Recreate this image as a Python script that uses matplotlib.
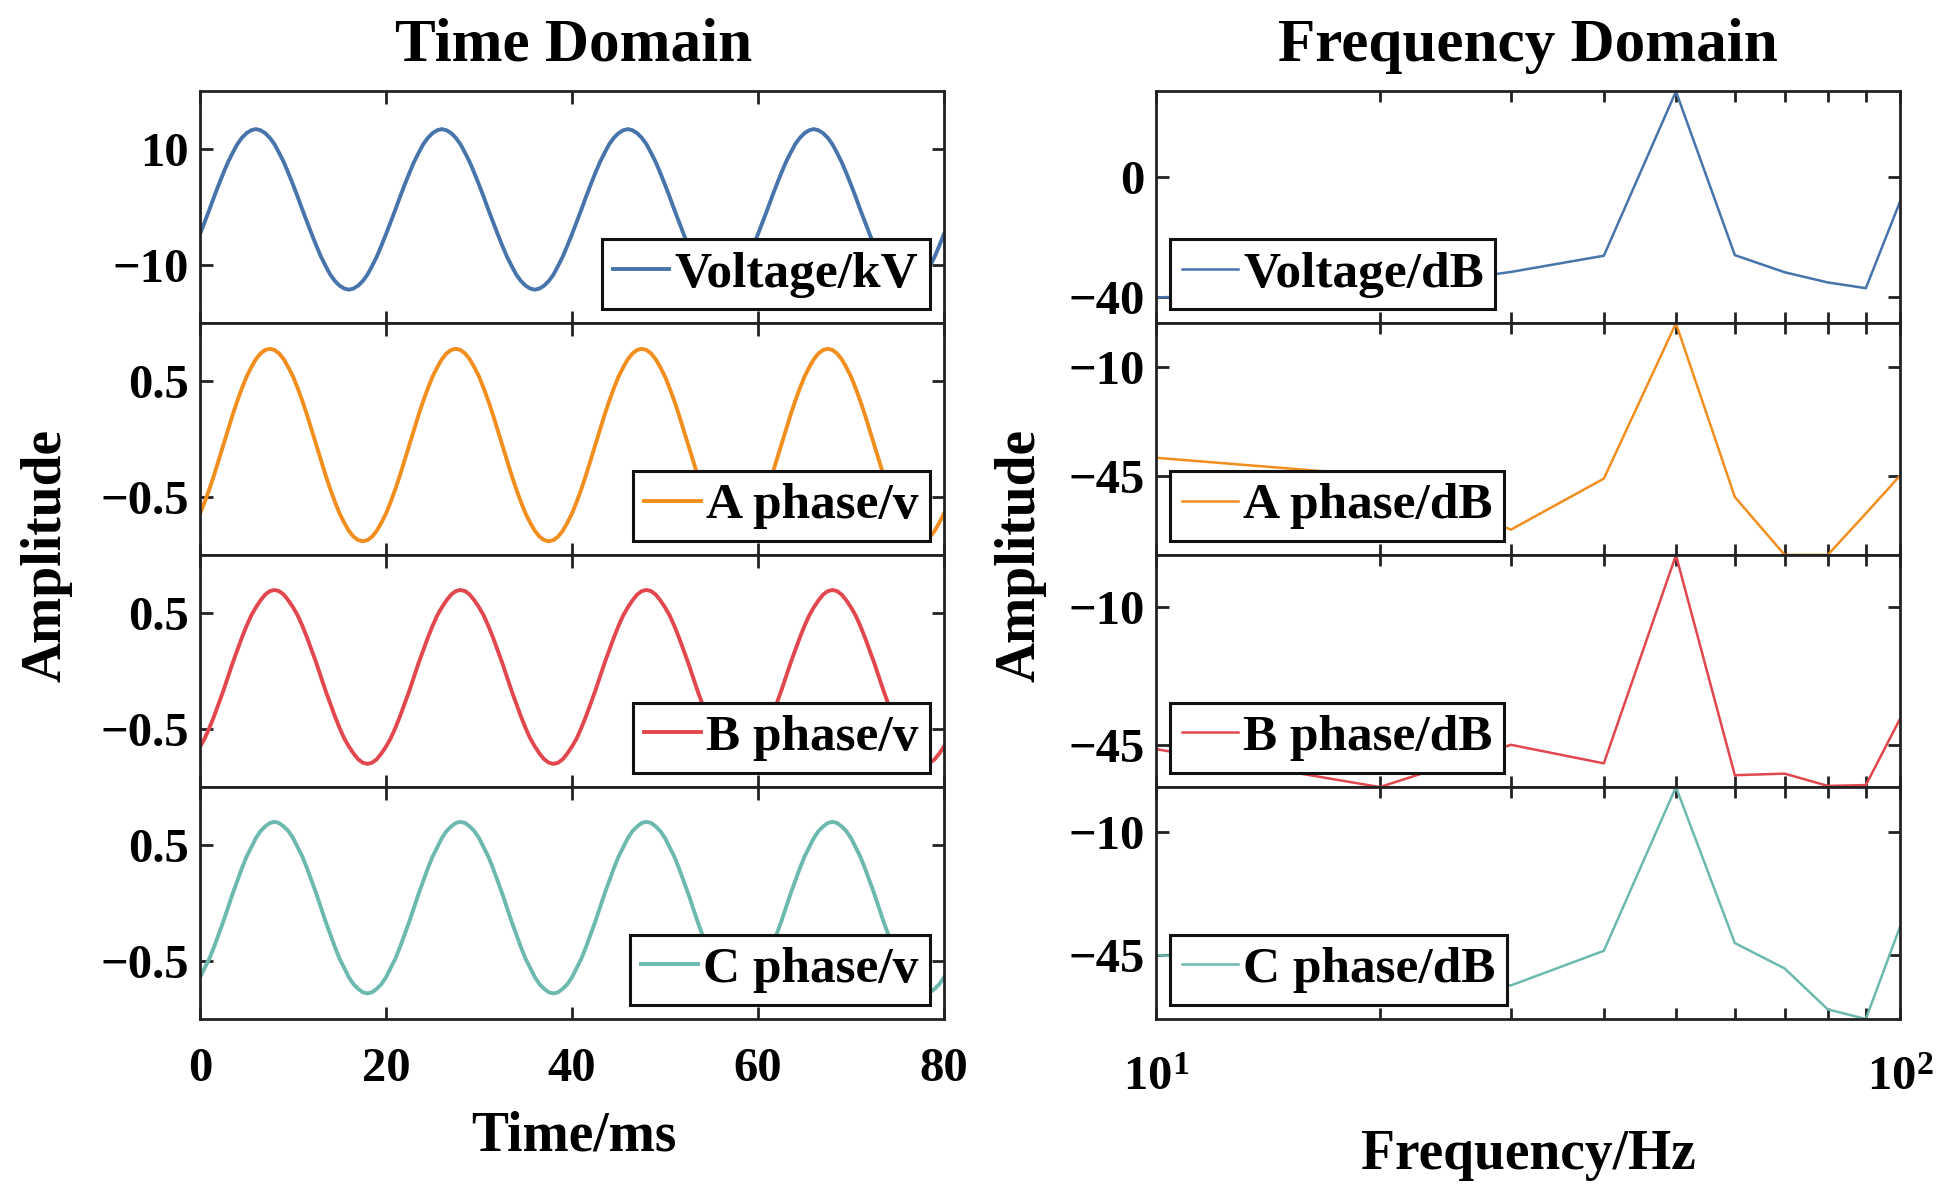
import matplotlib
matplotlib.use("Agg")
import matplotlib.pyplot as plt
from matplotlib.ticker import LogLocator, NullFormatter

plt.rcParams["font.family"] = "serif"
plt.rcParams["font.serif"] = ["Liberation Serif", "DejaVu Serif"]
plt.rcParams["font.weight"] = "bold"
plt.rcParams["mathtext.fontset"] = "custom"
plt.rcParams["mathtext.rm"] = "Liberation Serif"

time_ms = [i * 0.5 for i in range(161)]

voltage_kv = [
    -4.6, -2.5, -0.4, 1.8, 3.9, 5.9, 7.8, 9.4, 10.9, 12.0, 12.8, 13.3, 13.5, 13.3, 12.8, 12.0, 10.9, 9.4, 7.8, 5.9, 3.9, 1.8, -0.4, -2.5, -4.6, -6.6, -8.5, -10.1, -11.6, -12.7, -13.5, -14.0, -14.2, -14.0, -13.5, -12.7, -11.6, -10.1, -8.5, -6.6,
    -4.6, -2.5, -0.4, 1.8, 3.9, 5.9, 7.8, 9.4, 10.9, 12.0, 12.8, 13.3, 13.5, 13.3, 12.8, 12.0, 10.9, 9.4, 7.8, 5.9, 3.9, 1.8, -0.4, -2.5, -4.6, -6.6, -8.5, -10.1, -11.6, -12.7, -13.5, -14.0, -14.2, -14.0, -13.5, -12.7, -11.6, -10.1, -8.5, -6.6,
    -4.6, -2.5, -0.4, 1.8, 3.9, 5.9, 7.8, 9.4, 10.9, 12.0, 12.8, 13.3, 13.5, 13.3, 12.8, 12.0, 10.9, 9.4, 7.8, 5.9, 3.9, 1.8, -0.4, -2.5, -4.6, -6.6, -8.5, -10.1, -11.6, -12.7, -13.5, -14.0, -14.2, -14.0, -13.5, -12.7, -11.6, -10.1, -8.5, -6.6,
    -4.6, -2.5, -0.4, 1.8, 3.9, 5.9, 7.8, 9.4, 10.9, 12.0, 12.8, 13.3, 13.5, 13.3, 12.8, 12.0, 10.9, 9.4, 7.8, 5.9, 3.9, 1.8, -0.4, -2.5, -4.6, -6.6, -8.5, -10.1, -11.6, -12.7, -13.5, -14.0, -14.2, -14.0, -13.5, -12.7, -11.6, -10.1, -8.5, -6.6,
    -4.6,
]
phase_a = [
    -0.64, -0.54, -0.43, -0.31, -0.18, -0.05, 0.08, 0.21, 0.33, 0.44, 0.54, 0.62, 0.69, 0.74, 0.77, 0.78, 0.77, 0.74, 0.69, 0.62, 0.54, 0.44, 0.33, 0.21, 0.08, -0.05, -0.18, -0.31, -0.43, -0.54, -0.64, -0.72, -0.79, -0.84, -0.87, -0.88, -0.87, -0.84, -0.79, -0.72,
    -0.64, -0.54, -0.43, -0.31, -0.18, -0.05, 0.08, 0.21, 0.33, 0.44, 0.54, 0.62, 0.69, 0.74, 0.77, 0.78, 0.77, 0.74, 0.69, 0.62, 0.54, 0.44, 0.33, 0.21, 0.08, -0.05, -0.18, -0.31, -0.43, -0.54, -0.64, -0.72, -0.79, -0.84, -0.87, -0.88, -0.87, -0.84, -0.79, -0.72,
    -0.64, -0.54, -0.43, -0.31, -0.18, -0.05, 0.08, 0.21, 0.33, 0.44, 0.54, 0.62, 0.69, 0.74, 0.77, 0.78, 0.77, 0.74, 0.69, 0.62, 0.54, 0.44, 0.33, 0.21, 0.08, -0.05, -0.18, -0.31, -0.43, -0.54, -0.64, -0.72, -0.79, -0.84, -0.87, -0.88, -0.87, -0.84, -0.79, -0.72,
    -0.64, -0.54, -0.43, -0.31, -0.18, -0.05, 0.08, 0.21, 0.33, 0.44, 0.54, 0.62, 0.69, 0.74, 0.77, 0.78, 0.77, 0.74, 0.69, 0.62, 0.54, 0.44, 0.33, 0.21, 0.08, -0.05, -0.18, -0.31, -0.43, -0.54, -0.64, -0.72, -0.79, -0.84, -0.87, -0.88, -0.87, -0.84, -0.79, -0.72,
    -0.64,
]
phase_b = [
    -0.65, -0.58, -0.49, -0.39, -0.28, -0.17, -0.05, 0.07, 0.18, 0.29, 0.39, 0.48, 0.55, 0.61, 0.66, 0.69, 0.70, 0.69, 0.66, 0.61, 0.55, 0.48, 0.39, 0.29, 0.18, 0.07, -0.05, -0.17, -0.28, -0.39, -0.49, -0.58, -0.65, -0.71, -0.76, -0.79, -0.80, -0.79, -0.76, -0.71,
    -0.65, -0.58, -0.49, -0.39, -0.28, -0.17, -0.05, 0.07, 0.18, 0.29, 0.39, 0.48, 0.55, 0.61, 0.66, 0.69, 0.70, 0.69, 0.66, 0.61, 0.55, 0.48, 0.39, 0.29, 0.18, 0.07, -0.05, -0.17, -0.28, -0.39, -0.49, -0.58, -0.65, -0.71, -0.76, -0.79, -0.80, -0.79, -0.76, -0.71,
    -0.65, -0.58, -0.49, -0.39, -0.28, -0.17, -0.05, 0.07, 0.18, 0.29, 0.39, 0.48, 0.55, 0.61, 0.66, 0.69, 0.70, 0.69, 0.66, 0.61, 0.55, 0.48, 0.39, 0.29, 0.18, 0.07, -0.05, -0.17, -0.28, -0.39, -0.49, -0.58, -0.65, -0.71, -0.76, -0.79, -0.80, -0.79, -0.76, -0.71,
    -0.65, -0.58, -0.49, -0.39, -0.28, -0.17, -0.05, 0.07, 0.18, 0.29, 0.39, 0.48, 0.55, 0.61, 0.66, 0.69, 0.70, 0.69, 0.66, 0.61, 0.55, 0.48, 0.39, 0.29, 0.18, 0.07, -0.05, -0.17, -0.28, -0.39, -0.49, -0.58, -0.65, -0.71, -0.76, -0.79, -0.80, -0.79, -0.76, -0.71,
    -0.65,
]
phase_c = [
    -0.64, -0.56, -0.48, -0.38, -0.27, -0.16, -0.04, 0.08, 0.19, 0.30, 0.40, 0.48, 0.56, 0.62, 0.66, 0.69, 0.70, 0.69, 0.66, 0.62, 0.56, 0.48, 0.40, 0.30, 0.19, 0.08, -0.04, -0.16, -0.27, -0.38, -0.48, -0.56, -0.64, -0.70, -0.74, -0.77, -0.78, -0.77, -0.74, -0.70,
    -0.64, -0.56, -0.48, -0.38, -0.27, -0.16, -0.04, 0.08, 0.19, 0.30, 0.40, 0.48, 0.56, 0.62, 0.66, 0.69, 0.70, 0.69, 0.66, 0.62, 0.56, 0.48, 0.40, 0.30, 0.19, 0.08, -0.04, -0.16, -0.27, -0.38, -0.48, -0.56, -0.64, -0.70, -0.74, -0.77, -0.78, -0.77, -0.74, -0.70,
    -0.64, -0.56, -0.48, -0.38, -0.27, -0.16, -0.04, 0.08, 0.19, 0.30, 0.40, 0.48, 0.56, 0.62, 0.66, 0.69, 0.70, 0.69, 0.66, 0.62, 0.56, 0.48, 0.40, 0.30, 0.19, 0.08, -0.04, -0.16, -0.27, -0.38, -0.48, -0.56, -0.64, -0.70, -0.74, -0.77, -0.78, -0.77, -0.74, -0.70,
    -0.64, -0.56, -0.48, -0.38, -0.27, -0.16, -0.04, 0.08, 0.19, 0.30, 0.40, 0.48, 0.56, 0.62, 0.66, 0.69, 0.70, 0.69, 0.66, 0.62, 0.56, 0.48, 0.40, 0.30, 0.19, 0.08, -0.04, -0.16, -0.27, -0.38, -0.48, -0.56, -0.64, -0.70, -0.74, -0.77, -0.78, -0.77, -0.74, -0.70,
    -0.64,
]

# ---- frequency domain ----
freq_hz = [10, 20, 30, 40, 50, 60, 70, 80, 90, 100]
voltage_db = [-40.0, -37.5, -31.5, -26.1, 28.6, -25.9, -31.6, -35.0, -36.9, -8.2]
phase_a_db = [-39.2, -45.0, -62.3, -45.9, 4.0, -51.8, -70.4, -70.4, -57.1, -45.0]
phase_b_db = [-46.0, -55.6, -44.9, -49.6, 3.1, -52.6, -52.2, -55.3, -55.1, -38.4]
phase_c_db = [-45.0, -49.0, -53.6, -43.8, 2.6, -41.6, -48.8, -60.4, -63.1, -37.1]

time_labels = ["Voltage/kV", "A phase/v", "B phase/v", "C phase/v"]
freq_labels = ["Voltage/dB", "A phase/dB", "B phase/dB", "C phase/dB"]
time_yticks = [[-10, 10], [-0.5, 0.5], [-0.5, 0.5], [-0.5, 0.5]]
time_ylims = [(-20, 20), (-1, 1), (-1, 1), (-1, 1)]
freq_yticks = [[-40, 0], [-45, -10], [-45, -10], [-45, -10]]
freq_ylims = [(-48.6, 28.6), (-70.5, 4.0), (-55.6, 3.1), (-63.1, 2.6)]
colors = ["#4674AB", "#F28E1E", "#E2474D", "#6CB9B0"]

time_series = [voltage_kv, phase_a, phase_b, phase_c]
freq_series = [voltage_db, phase_a_db, phase_b_db, phase_c_db]


def style(ax, xpad):
    for sp in ax.spines.values():
        sp.set_linewidth(2.0)
        sp.set_color("#222222")
    ax.tick_params(which="both", direction="in", top=True, right=True,
                   width=2.0, labelsize=35, color="#222222")
    ax.tick_params(which="major", length=9)
    ax.tick_params(which="minor", length=8)
    ax.tick_params(axis="y", pad=8)
    ax.tick_params(axis="x", pad=xpad)


def add_legend(ax, loc):
    leg = ax.legend(loc=loc, fontsize=37, frameon=True, fancybox=False,
                    framealpha=1, edgecolor="#111111", handlelength=1.1,
                    handletextpad=0.1, borderpad=0.22, borderaxespad=0.28)
    leg.get_frame().set_linewidth(2.2)


fig = plt.figure(figsize=(19.52, 12.03), dpi=100)

left_x, right_x, width = 0.1025, 0.5922, 0.3811
bottom, height = 0.153, 0.19275

for i in range(4):
    y0 = bottom + (3 - i) * height

    # time domain
    ax = fig.add_axes([left_x, y0, width, height])
    ax.plot(time_ms, time_series[i], color=colors[i], lw=2.8,
            solid_joinstyle="round", label=time_labels[i])
    ax.set_xlim(0, 80)
    ax.set_xticks([0, 20, 40, 60, 80])
    ax.set_ylim(*time_ylims[i])
    ax.set_yticks(time_yticks[i])
    style(ax, 20)
    if i < 3:
        ax.tick_params(labelbottom=False)
    add_legend(ax, "lower right")

    # frequency domain
    ax2 = fig.add_axes([right_x, y0, width, height])
    ax2.plot(freq_hz, freq_series[i], color=colors[i], lw=1.8,
             label=freq_labels[i])
    ax2.set_xscale("log")
    ax2.set_xlim(10, 100)
    ax2.xaxis.set_major_locator(LogLocator(base=10))
    ax2.xaxis.set_minor_locator(LogLocator(base=10, subs=range(2, 10)))
    ax2.xaxis.set_minor_formatter(NullFormatter())
    ax2.set_ylim(*freq_ylims[i])
    ax2.set_yticks(freq_yticks[i])
    style(ax2, 27)
    if i < 3:
        ax2.tick_params(labelbottom=False)
    add_legend(ax2, "lower left")

fig.text(0.294, 0.962, "Time Domain", ha="center", va="center", fontsize=44)
fig.text(0.7828, 0.962, "Frequency Domain", ha="center", va="center", fontsize=44)
fig.text(0.294, 0.055, "Time/ms", ha="center", va="center", fontsize=40)
fig.text(0.7828, 0.040, "Frequency/Hz", ha="center", va="center", fontsize=40)
fig.text(0.0236, 0.5386, "Amplitude", ha="center", va="center",
         rotation=90, fontsize=40)
fig.text(0.523, 0.5386, "Amplitude", ha="center", va="center",
         rotation=90, fontsize=40)

fig.savefig("out.png", dpi=100)
plt.close(fig)
